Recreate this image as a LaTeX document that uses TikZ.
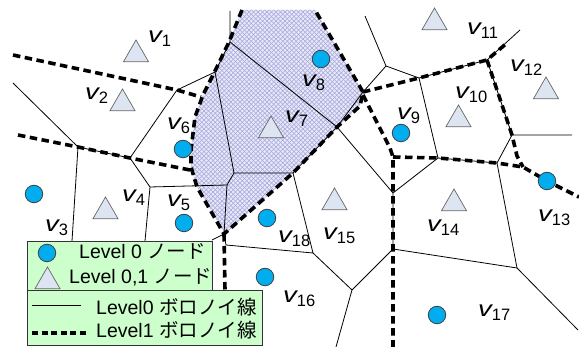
\documentclass[tikz,border=0pt]{standalone}
\usepackage{fontspec}
\setmainfont{Liberation Sans}
\newfontfamily\cjk{Noto Sans CJK JP}
\usetikzlibrary{shapes.geometric}
\definecolor{legfill}{HTML}{CCFFCC}
\definecolor{trifill}{HTML}{DDE5F2}
\definecolor{hatchbg}{HTML}{E8E8F8}
\definecolor{hatchln}{HTML}{A6A6DC}
\newcommand\vlab[1]{{\fontsize{22}{22}\selectfont\itshape\scalebox{1.25}[1]{v}}\raisebox{-4pt}{\fontsize{16.5}{16.5}\selectfont #1}}
\tikzset{
  lvzero/.style={draw=black, line width=0.8pt},
  lvone/.style={draw=black, line width=3.6pt, dash pattern=on 7.5pt off 4.5pt},
  cnode/.style={circle, fill=cyan, draw=black!75, line width=0.8pt, minimum size=17.5pt, inner sep=0pt},
  tnode/.style={regular polygon, regular polygon sides=3, fill=trifill, draw=black!60, line width=0.7pt, minimum size=29pt, inner sep=0pt},
  lab/.style={anchor=base west, inner sep=0pt},
  legbox/.style={draw=black!80, fill=legfill, line width=0.8pt, anchor=north west, inner sep=0pt},
  legtext/.style={anchor=base west, inner sep=0pt, font=\fontsize{19.5}{19.5}\selectfont},
}
\begin{document}
\begin{tikzpicture}[x=1pt,y=-1pt]
\useasboundingbox (0,0) rectangle (579,347);
% ---------- shaded level-1 cell ----------
\begin{scope}
\clip (242,10) -- (315,10) -- (363,92) -- (360,106) -- (337,128) -- (293,173) -- (225,234) -- (197,187) -- (191,167) -- (191,150) -- (195,117) -- (203,95) -- (215,71) -- (229,42) -- cycle;
\fill[hatchbg] (180,0) rectangle (370,240);
\foreach \i in {-60,-55.5,...,380} \draw[hatchln, line width=0.4pt] (\i,0) -- ++(260,260);
\foreach \i in {180,184.5,...,620} \draw[hatchln, line width=0.4pt] (\i,0) -- ++(-260,260);
\end{scope}
% ---------- level-0 vertices ----------
\coordinate (A) at (13,83);
\coordinate (B) at (78,147);
\coordinate (B1) at (72,241);
\coordinate (C) at (130,158);
\coordinate (D) at (177,90);
\coordinate (E) at (215,72);
\coordinate (F) at (230,42);
\coordinate (F0) at (230,11);
\coordinate (G) at (150,187);
\coordinate (G1) at (145,241);
\coordinate (H) at (227,185);
\coordinate (I) at (234,173);
\coordinate (J) at (293,173);
\coordinate (K) at (337,127);
\coordinate (L) at (363,92);
\coordinate (M) at (386,66);
\coordinate (M0) at (365,16);
\coordinate (N) at (419,78);
\coordinate (O) at (438,158);
\coordinate (P) at (393,193);
\coordinate (Q) at (497,163);
\coordinate (R) at (512,135);
\coordinate (R0) at (572,135);
\coordinate (S) at (517,268);
\coordinate (S0) at (578,330);
\coordinate (T) at (393,249);
\coordinate (U) at (352,290);
\coordinate (U0) at (336,347);
\coordinate (V) at (313,253);
\coordinate (W) at (226,245);
\coordinate (X) at (224,234);
\coordinate (X0) at (212,240);
\coordinate (Y) at (487,60);
\coordinate (Y0) at (520,30);
\draw[lvzero] (A) -- (B) -- (C) -- (D) -- (E) -- (F) -- (F0);
\draw[lvzero] (B) -- (B1);
\draw[lvzero] (C) -- (G) -- (G1);
\draw[lvzero] (G) -- (H) -- (I) -- (J) -- (K) -- (L) -- (M) -- (M0);
\draw[lvzero] (E) -- (I);
\draw[lvzero] (F) -- (K) -- (P);
\draw[lvzero] (H) -- (X) -- (X0);
\draw[lvzero] (X) -- (W) -- (V) -- (J);
\draw[lvzero] (V) -- (U) -- (U0);
\draw[lvzero] (U) -- (T) -- (P) -- (O) -- (N) -- (M);
\draw[lvzero] (N) -- (Y) -- (Y0);
\draw[lvzero] (Y) -- (R) -- (R0);
\draw[lvzero] (O) -- (Q) -- (R);
\draw[lvzero] (Q) -- (S) -- (S0);
\draw[lvzero] (S) -- (T);
% ---------- level-1 lines ----------
\coordinate (a1) at (13,55);
\coordinate (a2) at (201,97);
\coordinate (b1) at (18,135);
\coordinate (b2) at (190,170);
\coordinate (s1) at (242,10);
\coordinate (s2) at (229,42);
\coordinate (s3) at (215,71);
\coordinate (s4) at (203,95);
\coordinate (s5) at (195,117);
\coordinate (s6) at (191,150);
\coordinate (s7) at (191,167);
\coordinate (s8) at (197,187);
\coordinate (s9) at (360,106);
\coordinate (s10) at (315,10);
\coordinate (d1) at (225,290);
\coordinate (e1) at (507,43);
\coordinate (f0) at (363,95);
\coordinate (f1) at (390,148);
\coordinate (f2) at (393,157);
\coordinate (f3) at (393,347);
\coordinate (g1) at (523,167);
\coordinate (g2) at (547,181);
\coordinate (g3) at (579,197);
\coordinate (h1) at (517,156);
\draw[lvone] (a1) -- (D) -- (a2);
\draw[lvone] (b1) -- (B) -- (C) -- (b2);
\draw[lvone] (s1) -- (s2) -- (s3) -- (s4) -- (s5) -- (s6) -- (s7) -- (s8) -- (X) -- (J) -- (K) -- (s9) -- (L) -- (s10);
\draw[lvone] (X) -- (d1);
\draw[lvone] (L) -- (N) -- (Y) -- (e1);
\draw[lvone] (f0) -- (f1) -- (f2) -- (f3);
\draw[lvone] (f2) -- (O) -- (Q) -- (g1) -- (g2) -- (g3);
\draw[lvone] (Y) -- (R) -- (h1) -- (g1);
% ---------- nodes ----------
\node[tnode] (n1) at (136,54.5) {};
\node[tnode] (n2) at (122.5,103.5) {};
\node[cnode] (n3) at (34,194) {};
\node[tnode] (n4) at (105.5,211.5) {};
\node[cnode] (n5) at (184,223) {};
\node[cnode] (n6) at (183,149) {};
\node[tnode] (n7) at (271,130.5) {};
\node[cnode] (n8) at (321,59) {};
\node[cnode] (n9) at (401,133) {};
\node[tnode] (n10) at (458.5,119.5) {};
\node[tnode] (n11) at (434.5,22.5) {};
\node[tnode] (n12) at (546,91.5) {};
\node[cnode] (n13) at (547,181) {};
\node[tnode] (n14) at (454,203.5) {};
\node[tnode] (n15) at (334.5,202.5) {};
\node[cnode] (n16) at (265,277) {};
\node[cnode] (n17) at (437,315) {};
\node[cnode] (n18) at (267,218) {};
% ---------- labels ----------
\node[lab] (l1) at (148,43) {\vlab{1}};
\node[lab] (l2) at (85,100) {\vlab{2}};
\node[lab] (l3) at (45,232) {\vlab{3}};
\node[lab] (l4) at (122,202) {\vlab{4}};
\node[lab] (l5) at (167,207) {\vlab{5}};
\node[lab] (l6) at (167,130) {\vlab{6}};
\node[lab] (l7) at (285,123) {\vlab{7}};
\node[lab] (l8) at (302,87) {\vlab{8}};
\node[lab] (l9) at (397,120) {\vlab{9}};
\node[lab] (l10) at (455,99) {\vlab{10}};
\node[lab] (l11) at (467,35) {\vlab{11}};
\node[lab] (l12) at (510,72) {\vlab{12}};
\node[lab] (l13) at (538,222) {\vlab{13}};
\node[lab] (l14) at (427,232) {\vlab{14}};
\node[lab] (l15) at (323,240) {\vlab{15}};
\node[lab] (l16) at (283,303) {\vlab{16}};
\node[lab] (l17) at (478,317) {\vlab{17}};
\node[lab] (l18) at (278,243) {\vlab{18}};
% ---------- legend ----------
\node[legbox, minimum width=185pt, minimum height=49pt] (leg1) at (27,241) {};
\node[legbox, minimum width=235pt, minimum height=55pt] (leg2) at (27,290) {};
\node[cnode] (lc) at (47,253) {};
\node[tnode] (lt) at (47.5,281.5) {};
\node[legtext] (t1) at (79,259) {Level 0 {\cjk ノード}};
\node[legtext] (t2) at (69,284) {Level 0,1 {\cjk ノード}};
\coordinate (ls1) at (32,305);
\coordinate (ls2) at (81,305);
\coordinate (ld1) at (32,333);
\coordinate (ld2) at (88,333);
\draw[lvzero] (ls1) -- (ls2);
\draw[draw=black, line width=3.2pt, dash pattern=on 6pt off 3.5pt] (ld1) -- (ld2);
\node[legtext] (t3) at (96,315) {Level0 {\cjk ボロノイ線}};
\node[legtext] (t4) at (96,338) {Level1 {\cjk ボロノイ線}};
\end{tikzpicture}
\end{document}
